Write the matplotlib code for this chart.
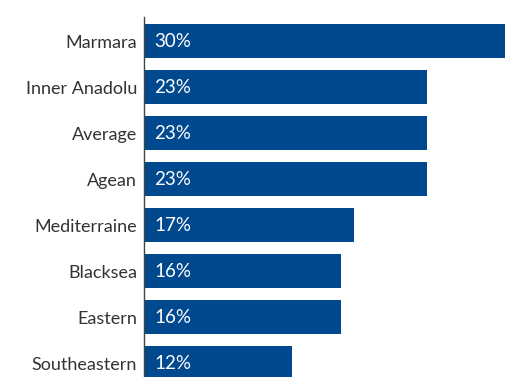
import matplotlib
matplotlib.use("Agg")
import matplotlib.pyplot as plt

regions = ["Marmara", "Inner Anadolu", "Average", "Agean",
           "Mediterraine", "Blacksea", "Eastern", "Southeastern"]
shares = [30.0, 23.4, 23.4, 23.4, 17.3, 16.3, 16.3, 12.2]
labels = ["30%", "23%", "23%", "23%", "17%", "16%", "16%", "12%"]

BAR = "#00498f"
TEXT = "#333333"

plt.rcParams["font.family"] = ["Lato", "DejaVu Sans"]

fig = plt.figure(figsize=(5.05, 3.77), dpi=100)
ax = fig.add_axes([144 / 505, 0, 1 - 144 / 505, 360 / 377])

ypos = list(range(len(regions)))
ax.barh(ypos, shares, height=0.74, color=BAR, zorder=2)
for y, lab in zip(ypos, labels):
    ax.text(0.85, y, lab, color="white", fontsize=13.5,
            va="center", ha="left", zorder=3)

ax.set_xlim(0, 29.8)
ax.set_ylim(7.304, -0.522)
ax.set_yticks(ypos)
ax.set_yticklabels(regions, fontsize=13, color=TEXT)
ax.tick_params(axis="y", length=0, pad=5)
ax.set_xticks([])
for side in ("top", "right", "bottom"):
    ax.spines[side].set_visible(False)
ax.spines["left"].set_color("#444444")
ax.spines["left"].set_linewidth(1.0)

fig.savefig("out.png", dpi=100)
